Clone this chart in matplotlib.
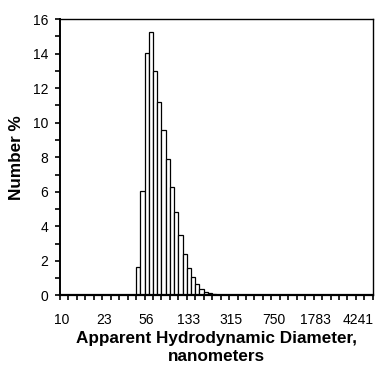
import numpy as np
import matplotlib
matplotlib.use("Agg")
import matplotlib.pyplot as plt

plt.rcParams['font.family'] = ['Liberation Sans', 'DejaVu Sans']

# 74 log-spaced size bins, only the occupied ones carry a value
n_bins = 74
first_bin = 18
number_pct = [1.63, 6.05, 14.06, 15.25, 13.0, 11.2, 9.55, 7.92, 6.25, 4.82,
              3.48, 2.39, 1.6, 1.08, 0.68, 0.4, 0.22, 0.13, 0.07, 0.04, 0.02]
label_bins = [0, 10, 20, 30, 40, 50, 60, 70]
diameter_labels = ["10", "23", "56", "133", "315", "750", "1783", "4241"]

heights = np.zeros(n_bins)
heights[first_bin:first_bin + len(number_pct)] = number_pct

fig = plt.figure(figsize=(3.77, 3.67), dpi=100)
ax = fig.add_axes([0.159, 0.195, 0.830, 0.753])

ax.bar(np.arange(n_bins), heights, width=1.0, color='white',
       edgecolor='black', linewidth=0.9)

ax.set_xlim(-0.5, n_bins - 0.5)
ax.set_ylim(0, 16)

ax.set_xticks(label_bins)
ax.set_xticklabels(diameter_labels)
ax.set_xticks(np.arange(-0.5, n_bins, 2), minor=True)
ax.tick_params(axis='x', which='major', length=0, pad=12.5, labelsize=10)
ax.tick_params(axis='x', which='minor', direction='out', length=3.5, width=1.2)

ax.set_yticks(np.arange(0, 17, 2))
ax.set_yticks(np.arange(0, 17, 1), minor=True)
ax.tick_params(axis='y', which='both', direction='out', length=3.5, width=1.2,
               labelsize=10, pad=5)

for s in ax.spines.values():
    s.set_linewidth(1.0)
ax.spines['bottom'].set_linewidth(1.6)
ax.spines['left'].set_linewidth(1.4)

ax.set_ylabel('Number %', fontsize=12.3, fontweight='bold', labelpad=6)
ax.set_xlabel('Apparent Hydrodynamic Diameter,\nnanometers', fontsize=12.3,
              fontweight='bold', labelpad=3, linespacing=1.25)

fig.savefig('out.png', dpi=100)
